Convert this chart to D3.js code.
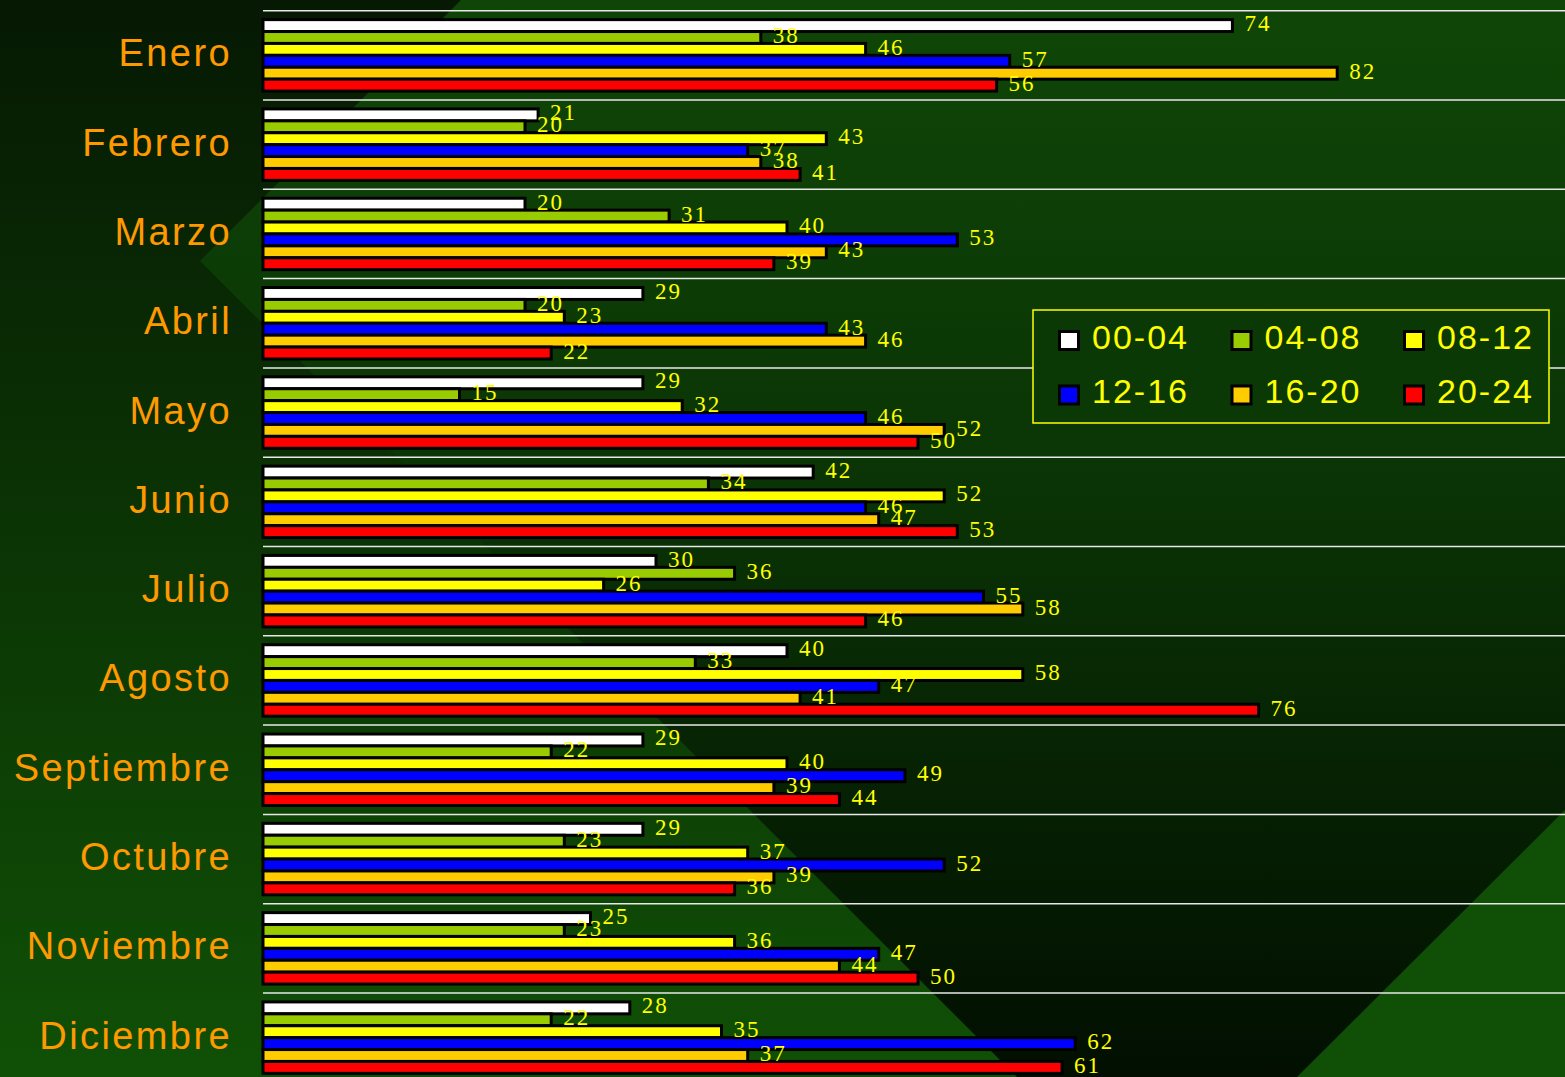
<!DOCTYPE html>
<html>
<head>
<meta charset="utf-8">
<script src="https://cdn.jsdelivr.net/npm/d3@7"></script>
<style>
  html, body { margin: 0; padding: 0; background: #0b3505; overflow: hidden; }
</style>
</head>
<body>
<div id="chart"></div>
<script>
(() => {
    const W = 1565, H = 1077;

    // Data
    const months = ["Enero", "Febrero", "Marzo", "Abril", "Mayo", "Junio",
        "Julio", "Agosto", "Septiembre", "Octubre", "Noviembre", "Diciembre"];
    const seriesNames = ["00-04", "04-08", "08-12", "12-16", "16-20", "20-24"];
    const h0004 = [74, 21, 20, 29, 29, 42, 30, 40, 29, 29, 25, 28];
    const h0408 = [38, 20, 31, 20, 15, 34, 36, 33, 22, 23, 23, 22];
    const h0812 = [46, 43, 40, 23, 32, 52, 26, 58, 40, 37, 36, 35];
    const h1216 = [57, 37, 53, 43, 46, 46, 55, 47, 49, 52, 47, 62];
    const h1620 = [82, 38, 43, 46, 52, 47, 58, 41, 39, 39, 44, 37];
    const h2024 = [56, 41, 39, 22, 50, 53, 46, 76, 44, 36, 50, 61];
    const seriesValues = [h0004, h0408, h0812, h1216, h1620, h2024];

    const colors = ["#FFFFFF", "#99CC00", "#FFFF00", "#0000FF", "#FFCC00", "#FF0000"];

    const svg = d3.select("#chart")
        .append("svg")
        .attr("width", W)
        .attr("height", H);

    // Background: two gradient regions plus a corner triangle
    const defs = svg.append("defs");
    const gradA = defs.append("linearGradient")
        .attr("id", "gradLeft")
        .attr("gradientUnits", "userSpaceOnUse")
        .attr("x1", 0).attr("y1", 0).attr("x2", 0).attr("y2", H);
    gradA.append("stop").attr("offset", 0).attr("stop-color", "#061903");
    gradA.append("stop").attr("offset", 1).attr("stop-color", "#105006");

    const gradB = defs.append("linearGradient")
        .attr("id", "gradRight")
        .attr("gradientUnits", "userSpaceOnUse")
        .attr("x1", 0).attr("y1", 0).attr("x2", 0).attr("y2", H);
    gradB.append("stop").attr("offset", 0).attr("stop-color", "#0f4607");
    gradB.append("stop").attr("offset", 0.45).attr("stop-color", "#0a3405");
    gradB.append("stop").attr("offset", 1).attr("stop-color", "#020f01");

    svg.append("rect")
        .attr("width", W).attr("height", H)
        .attr("fill", "url(#gradRight)");

    svg.append("polygon")
        .attr("points", [[0, 0], [461, 0], [200, 261], [1017, 1077], [0, 1077]].join(" "))
        .attr("fill", "url(#gradLeft)");

    svg.append("polygon")
        .attr("points", [[1565, 810], [1565, 1077], [1297, 1077]].join(" "))
        .attr("fill", "#0f5006");

    // Scales
    const plotTop = 10.7, step = 89.3;
    const x = d3.scaleLinear()
        .domain([0, 100])
        .range([263, 1573]);

    const y0 = d3.scaleBand()
        .domain(months)
        .range([plotTop, plotTop + step * months.length])
        .paddingInner(0.2)
        .paddingOuter(0.1);

    const y1 = d3.scaleBand()
        .domain(seriesNames)
        .range([0, y0.bandwidth()]);

    // Separator lines between months
    svg.append("g")
        .selectAll("line")
        .data(d3.range(months.length + 1))
        .enter().append("line")
        .attr("x1", x(0))
        .attr("x2", W)
        .attr("y1", i => plotTop + i * y0.step())
        .attr("y2", i => plotTop + i * y0.step())
        .attr("stroke", "#e8e8e8")
        .attr("stroke-width", 1.5);

    // Month labels
    svg.append("g")
        .selectAll("text")
        .data(months)
        .enter().append("text")
        .attr("x", 232)
        .attr("y", d => y0(d) + y0.bandwidth() / 2)
        .attr("dy", -2)
        .attr("text-anchor", "end")
        .attr("dominant-baseline", "central")
        .style("font-family", "'Liberation Sans', Arial, sans-serif")
        .style("font-size", "38px")
        .style("letter-spacing", "2.4px")
        .attr("fill", "#FF9900")
        .text(d => d);

    const rows = seriesNames.flatMap((name, s) =>
        months.map((m, i) => ({ series: name, s, month: m, value: seriesValues[s][i] })));

    // Bars
    svg.append("g")
        .selectAll("rect")
        .data(rows)
        .enter().append("rect")
        .attr("x", x(0))
        .attr("y", d => y0(d.month) + y1(d.series))
        .attr("width", d => x(d.value) - x(0))
        .attr("height", y1.bandwidth())
        .attr("fill", d => colors[d.s])
        .attr("stroke", "#000")
        .attr("stroke-width", 3);

    // Value labels on top of all bars
    svg.append("g")
        .selectAll("text")
        .data(rows)
        .enter().append("text")
        .attr("x", d => x(d.value) + 12)
        .attr("y", d => y0(d.month) + y1(d.series) + y1.bandwidth() / 2)
        .attr("dy", -2)
        .attr("dominant-baseline", "central")
        .style("font-family", "'Liberation Serif', 'Times New Roman', serif")
        .style("font-size", "23px")
        .style("letter-spacing", "2px")
        .attr("fill", "#FFFF00")
        .text(d => d.value);

    // Legend
    const legend = svg.append("g");
    legend.append("rect")
        .attr("x", 1033)
        .attr("y", 310)
        .attr("width", 516)
        .attr("height", 113)
        .attr("fill", "#0b3905")
        .attr("stroke", "#FFFF00")
        .attr("stroke-width", 1.5);

    const items = legend.selectAll("g.item")
        .data(seriesNames)
        .enter().append("g")
        .attr("class", "item")
        .attr("transform", (d, i) => `translate(${1058 + (i % 3) * 172.5},${330 + Math.floor(i / 3) * 54.5})`);

    items.append("rect")
        .attr("x", 1.5)
        .attr("y", 1.5)
        .attr("width", 19)
        .attr("height", 18)
        .attr("fill", (d, i) => colors[i])
        .attr("stroke", "#000")
        .attr("stroke-width", 3);

    items.append("text")
        .attr("x", 34)
        .attr("y", 6.5)
        .attr("dominant-baseline", "central")
        .style("font-family", "'Liberation Sans', Arial, sans-serif")
        .style("font-size", "34px")
        .style("letter-spacing", "2px")
        .attr("fill", "#FFFF00")
        .text(d => d);
})();
</script>
</body>
</html>
